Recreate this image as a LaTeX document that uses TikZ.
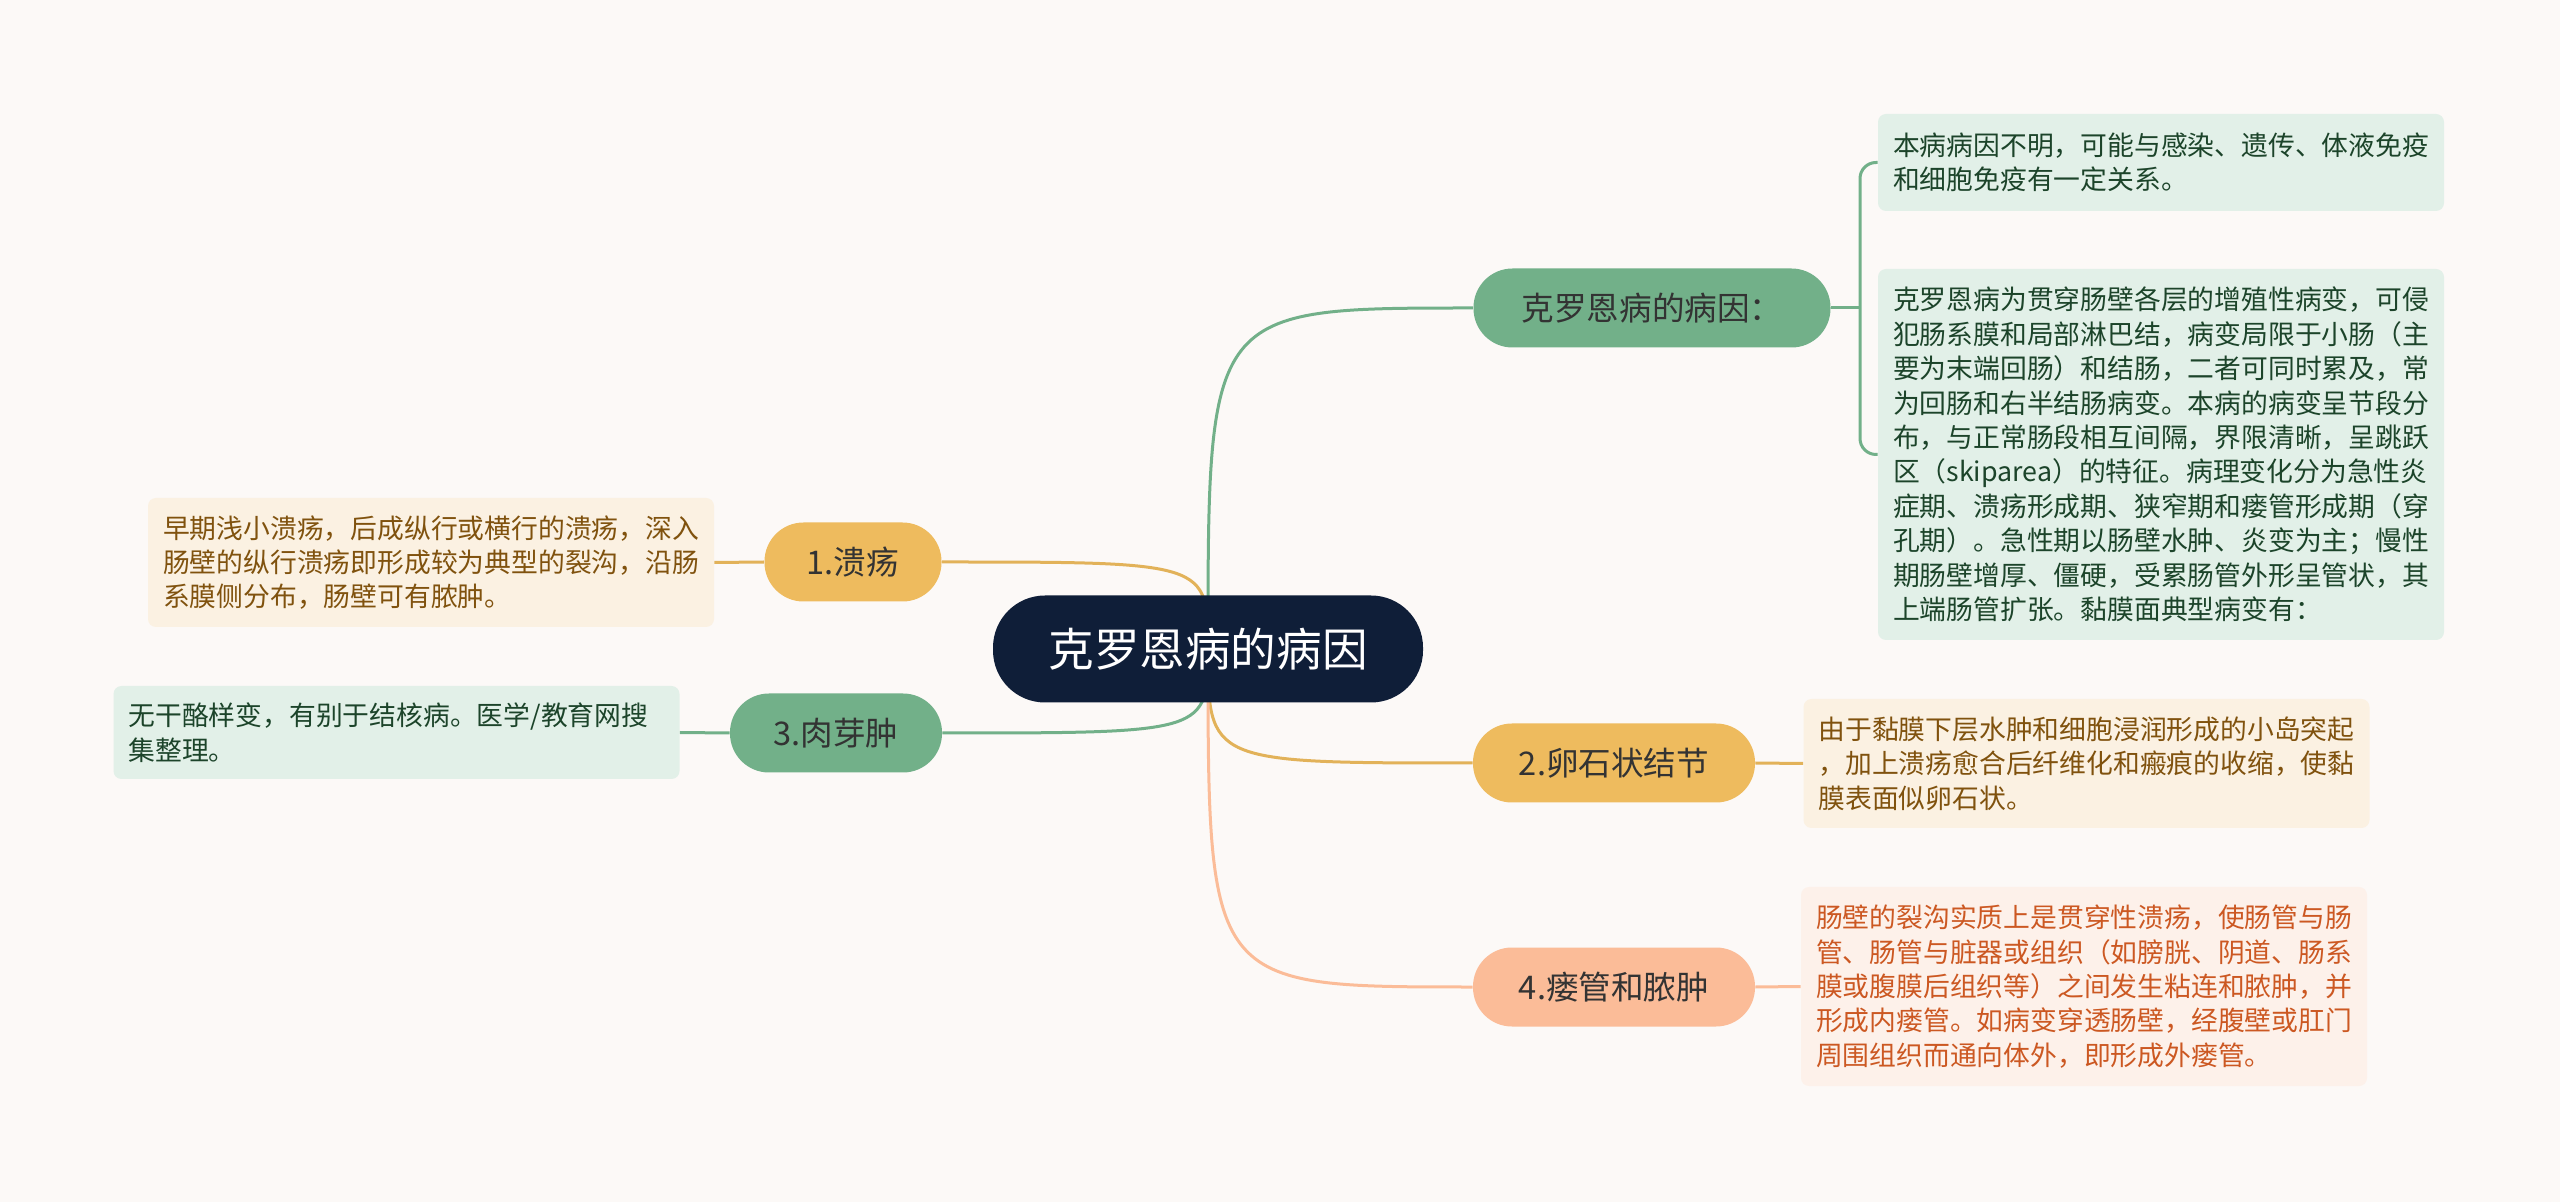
\documentclass[tikz,border=0pt]{standalone}
\usepackage{fontspec}
\setmainfont{Noto Sans CJK SC}
\usepackage{tikz}
\usetikzlibrary{backgrounds}
\definecolor{pagebg}{RGB}{252,249,247}
\definecolor{rootnavy}{RGB}{15,30,56}
\definecolor{leafgreen}{RGB}{114,176,137}
\definecolor{leafgold}{RGB}{238,187,94}
\definecolor{leafpeach}{RGB}{251,188,152}
\definecolor{notegreen}{RGB}{226,240,232}
\definecolor{notecream}{RGB}{251,241,226}
\definecolor{notepeach}{RGB}{253,241,234}
\definecolor{inkgreen}{RGB}{28,68,42}
\definecolor{inkbrown}{RGB}{128,82,14}
\definecolor{inkorange}{RGB}{204,88,34}

\begin{document}
\begin{tikzpicture}[x=0.5pt,y=0.5pt,
    root/.style={fill=rootnavy,text=white,rounded corners=26pt,inner sep=0pt,
      minimum width=215pt,minimum height=53.5pt,font=\fontsize{22.8}{26}\selectfont},
    branch/.style={rounded corners=19.5pt,inner sep=0pt,minimum height=39.5pt,
      text=black!80,font=\fontsize{16.3}{19}\selectfont},
    gbranch/.style={branch,fill=leafgreen},
    ybranch/.style={branch,fill=leafgold},
    pbranch/.style={branch,fill=leafpeach},
    note/.style={rounded corners=4pt,inner xsep=7.5pt,inner ysep=0pt,align=left,
      text width=268pt,font=\fontsize{13.4}{17.2}\selectfont},
    gline/.style={leafgreen,line width=1.5pt},
    yline/.style={leafgold!95!black,line width=1.5pt},
    pline/.style={leafpeach,line width=1.5pt}
  ]

  % centre topic
  \node[root] (root) at (1208,-649) {克罗恩病的病因};

  % branches (right)
  \node[gbranch,minimum width=178.5pt] (cause) at (1652,-308) {克罗恩病的病因：};
  \node[ybranch,minimum width=141pt] (cobble) at (1614,-763) {2.卵石状结节};
  \node[pbranch,minimum width=141pt] (fistula) at (1614,-987) {4.瘘管和脓肿};

  % branches (left)
  \node[ybranch,minimum width=88.5pt] (ulcer) at (853,-562) {1.溃疡};
  \node[gbranch,minimum width=106pt] (granu) at (836,-733) {3.肉芽肿};

  % notes for the cause
  \node[note,fill=notegreen,text=inkgreen,minimum height=48.5pt]
    (noteA) at (2161,-162.5) {本病病因不明，可能与感染、遗传、体液免疫\\和细胞免疫有一定关系。};
  \node[note,fill=notegreen,text=inkgreen,minimum height=185.5pt]
    (noteB) at (2161,-454.5) {克罗恩病为贯穿肠壁各层的增殖性病变，可侵\\
      犯肠系膜和局部淋巴结，病变局限于小肠（主\\
      要为末端回肠）和结肠，二者可同时累及，常\\
      为回肠和右半结肠病变。本病的病变呈节段分\\
      布，与正常肠段相互间隔，界限清晰，呈跳跃\\
      区（skiparea）的特征。病理变化分为急性炎\\
      症期、溃疡形成期、狭窄期和瘘管形成期（穿\\
      孔期）。急性期以肠壁水肿、炎变为主；慢性\\
      期肠壁增厚、僵硬，受累肠管外形呈管状，其\\
      上端肠管扩张。黏膜面典型病变有：};

  % notes for the numbered lesions
  \node[note,fill=notecream,text=inkbrown,minimum height=64.5pt]
    (noteC) at (2086.5,-763.5) {由于黏膜下层水肿和细胞浸润形成的小岛突起\\
      ，加上溃疡愈合后纤维化和瘢痕的收缩，使黏\\
      膜表面似卵石状。};
  \node[note,fill=notepeach,text=inkorange,minimum height=99.5pt]
    (noteD) at (2084,-986.5) {肠壁的裂沟实质上是贯穿性溃疡，使肠管与肠\\
      管、肠管与脏器或组织（如膀胱、阴道、肠系\\
      膜或腹膜后组织等）之间发生粘连和脓肿，并\\
      形成内瘘管。如病变穿透肠壁，经腹壁或肛门\\
      周围组织而通向体外，即形成外瘘管。};
  \node[note,fill=notecream,text=inkbrown,minimum height=64.5pt]
    (noteE) at (431,-562.5) {早期浅小溃疡，后成纵行或横行的溃疡，深入\\
      肠壁的纵行溃疡即形成较为典型的裂沟，沿肠\\
      系膜侧分布，肠壁可有脓肿。};
  \node[note,fill=notegreen,text=inkgreen,minimum height=46.5pt]
    (noteF) at (396.5,-732.5) {无干酪样变，有别于结核病。医学/教育网搜\\集整理。};

  % branch to note links
  \coordinate (brk) at (1860,-308);
  \draw[gline] (cause.east) -- (brk);
  \draw[gline,rounded corners=8pt] (noteA.west) -| (brk) |- (noteB.west);
  \draw[yline] (cobble.east) -- (noteC.west);
  \draw[pline] (fistula.east) -- (noteD.west);
  \draw[yline] (ulcer.west) -- (noteE.east);
  \draw[gline] (granu.west) -- (noteF.east);

  % page and curves from the centre
  \begin{scope}[on background layer]
    \fill[pagebg] (0,0) rectangle (2560,-1202);
    \draw[gline] (root.center) .. controls (root.center |- cause.west) .. (cause.west);
    \draw[yline] (root.center) .. controls (root.center |- cobble.west) .. (cobble.west);
    \draw[pline] (root.center) .. controls (root.center |- fistula.west) .. (fistula.west);
    \draw[yline] (root.center) .. controls (root.center |- ulcer.east) .. (ulcer.east);
    \draw[gline] (root.center) .. controls (root.center |- granu.east) .. (granu.east);
  \end{scope}
\end{tikzpicture}
\end{document}
